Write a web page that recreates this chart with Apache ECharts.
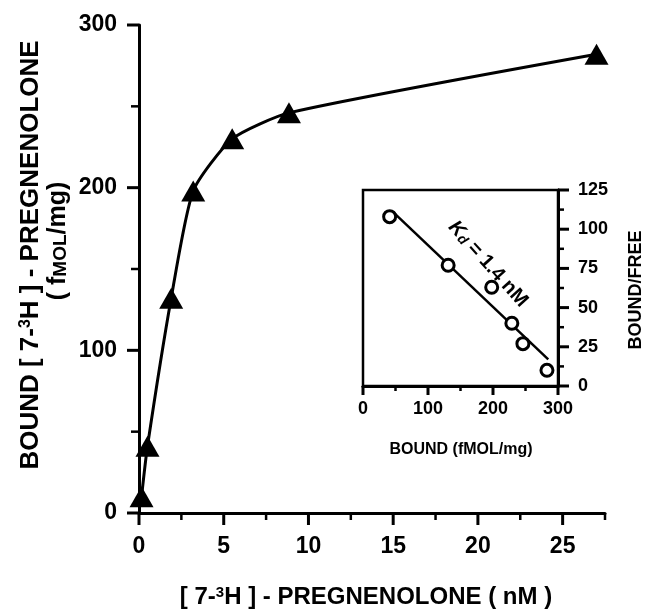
<!DOCTYPE html>
<html lang="en">
  <head>
    <meta charset="UTF-8" />
    <title>Pregnenolone binding</title>
    <style>
      html, body { margin: 0; padding: 0; background: #fff; }
    </style>
  </head>
  <body>
    <div id="main" style="width: 646px; height: 613px"></div>
    <script src="https://cdn.jsdelivr.net/npm/echarts@6.0.0/dist/echarts.min.js"></script>
    <script>
      // saturation curve: [nM, fmol/mg]
      const concNM = [0.15, 0.5, 1.9, 3.2, 5.5, 8.85, 27.0]
      const boundMain = [10, 41, 132, 198, 230, 246, 282]

      // Scatchard inset: bound vs bound/free
      const boundInset = [41, 131, 198, 229, 246, 283]
      const boundFree = [108, 77, 63, 40, 27, 10]

      // fitted line ends
      const fitBound = [46, 285]
      const fitRatio = [111, 17]

      // tick labels and tick marks
      const mainXTicks = [0, 5, 10, 15, 20, 25]
      const mainXMinor = [2.5, 7.5, 12.5, 17.5, 22.5, 27.5]
      const mainYTicks = [0, 100, 200, 300]
      const mainYMinor = [50, 150, 250]
      const insetXTicks = [0, 100, 200, 300]
      const insetXMinor = [50, 150, 250]
      const insetYTicks = [0, 25, 50, 75, 100, 125]
      const insetYMinor = [12.5, 37.5, 62.5, 87.5, 112.5]

      const FONT = 'Liberation Sans'
      const BLACK = '#000'
      const pairs = (xs, ys) => xs.map((x, i) => [x, ys[i]])

      const myChart = echarts.init(document.getElementById('main'))

      const mainX = [0, 27.5, 5]
      const mainY = [0, 300, 100]
      const insetX = [0, 300, 100]
      const insetY = [0, 125, 25]

      const valueAxis = (grid, range, ticks, font, margin, extra) =>
        Object.assign(
          {
            gridIndex: grid,
            type: 'value',
            min: range[0],
            max: range[1],
            interval: range[2],
            splitLine: { show: false },
            axisLine: { show: true, onZero: false, lineStyle: { color: BLACK, width: 3 } },
            axisTick: { show: false },
            axisLabel: {
              color: BLACK,
              fontFamily: FONT,
              fontWeight: 'bold',
              fontSize: font,
              margin: margin,
              formatter: v => (ticks.includes(v) ? String(v) : '')
            }
          },
          extra
        )

      const titles = [
        // main y title, two lines
        {
          type: 'text',
          x: 31,
          y: 255,
          rotation: Math.PI / 2,
          style: {
            text: '{t|BOUND [ 7-}{s|3}{t|H ] - PREGNENOLONE}',
            align: 'center',
            verticalAlign: 'middle',
            rich: {
              t: { fontFamily: FONT, fontWeight: 'bold', fontSize: 26, fill: BLACK },
              s: { fontFamily: FONT, fontWeight: 'bold', fontSize: 16, fill: BLACK, verticalAlign: 'top' }
            }
          }
        },
        {
          type: 'text',
          x: 58,
          y: 241,
          rotation: Math.PI / 2,
          style: {
            text: '{t|( f}{c|MOL}{t|/mg)}',
            align: 'center',
            verticalAlign: 'middle',
            rich: {
              t: { fontFamily: FONT, fontWeight: 'bold', fontSize: 25, fill: BLACK },
              c: { fontFamily: FONT, fontWeight: 'bold', fontSize: 19, fill: BLACK, verticalAlign: 'bottom' }
            }
          }
        },
        // main x title
        {
          type: 'text',
          x: 366,
          y: 597,
          style: {
            text: '{t|[ 7-}{s|3}{t|H ] - PREGNENOLONE ( nM )}',
            align: 'center',
            verticalAlign: 'middle',
            rich: {
              t: { fontFamily: FONT, fontWeight: 'bold', fontSize: 24, fill: BLACK },
              s: { fontFamily: FONT, fontWeight: 'bold', fontSize: 15, fill: BLACK, verticalAlign: 'top' }
            }
          }
        },
        // inset titles
        {
          type: 'text',
          x: 461,
          y: 450,
          style: {
            text: 'BOUND (fMOL/mg)',
            align: 'center',
            verticalAlign: 'middle',
            fontFamily: FONT,
            fontWeight: 'bold',
            fontSize: 16,
            fill: BLACK
          }
        },
        {
          type: 'text',
          x: 636,
          y: 290,
          rotation: Math.PI / 2,
          style: {
            text: 'BOUND/FREE',
            align: 'center',
            verticalAlign: 'middle',
            fontFamily: FONT,
            fontWeight: 'bold',
            fontSize: 18,
            fill: BLACK
          }
        },
        // Kd annotation
        {
          type: 'text',
          x: 488,
          y: 264,
          rotation: -48 * Math.PI / 180,
          style: {
            text: '{k|K}{d|d}{t| = 1.4 nM}',
            align: 'center',
            verticalAlign: 'middle',
            rich: {
              k: { fontFamily: FONT, fontWeight: 'bold', fontStyle: 'italic', fontSize: 20, fill: BLACK },
              d: { fontFamily: FONT, fontWeight: 'bold', fontStyle: 'italic', fontSize: 14, fill: BLACK, verticalAlign: 'bottom' },
              t: { fontFamily: FONT, fontWeight: 'bold', fontSize: 20, fill: BLACK }
            }
          }
        }
      ]

      const option = {
        animation: false,
        grid: [
          { left: 139, top: 25, right: 41, bottom: 100 },
          {
            left: 363, top: 190, right: 88, bottom: 227,
            show: true, borderColor: BLACK, borderWidth: 2.5
          }
        ],

        xAxis: [
          valueAxis(0, mainX, mainXTicks, 23, 22),
          valueAxis(1, insetX, insetXTicks, 18, 14)
        ],

        yAxis: [
          valueAxis(0, mainY, mainYTicks, 23, 22),
          valueAxis(1, insetY, insetYTicks, 18, 20, { position: 'right' })
        ],

        series: [
          {
            name: 'saturation',
            type: 'line',
            xAxisIndex: 0,
            yAxisIndex: 0,
            data: pairs(concNM, boundMain),
            smooth: 0.2,
            symbol: 'triangle',
            symbolSize: [24, 21],
            itemStyle: { color: BLACK },
            lineStyle: { color: BLACK, width: 3 },
            z: 3
          },
          {
            name: 'fit',
            type: 'line',
            xAxisIndex: 1,
            yAxisIndex: 1,
            data: pairs(fitBound, fitRatio),
            symbol: 'none',
            lineStyle: { color: BLACK, width: 2.5 },
            z: 2
          },
          {
            name: 'scatchard',
            type: 'scatter',
            xAxisIndex: 1,
            yAxisIndex: 1,
            data: pairs(boundInset, boundFree),
            symbolSize: 12,
            itemStyle: { color: '#fff', borderColor: BLACK, borderWidth: 3, opacity: 1 },
            z: 4
          }
        ],

        graphic: titles
      }

      myChart.setOption(option)

      // tick marks: placed with the axes' own scales once the grids exist
      // dir is the pixel direction of the mark, lens = [major, minor]
      const tickLines = []
      const addTicks = (grid, pts, majors, dir, lens) => {
        pts.forEach(pt => {
          const p = myChart.convertToPixel({ gridIndex: grid }, pt)
          const v = dir[0] === 0 ? pt[0] : pt[1]
          const major = majors.includes(v)
          const len = major ? lens[0] : lens[1]
          tickLines.push({
            type: 'line',
            z: 100,
            silent: true,
            shape: { x1: p[0], y1: p[1], x2: p[0] + dir[0] * len, y2: p[1] + dir[1] * len },
            style: { stroke: BLACK, lineWidth: major ? 3 : 2.5 }
          })
        })
      }
      const atY = (vals, y) => vals.map(v => [v, y])
      const atX = (vals, x) => vals.map(v => [x, v])

      addTicks(0, atY(mainXTicks.concat(mainXMinor), mainY[0]), mainXTicks, [0, 1], [12, 7])
      addTicks(0, atX(mainYTicks.concat(mainYMinor), mainX[0]), mainYTicks, [-1, 0], [12, 8])
      addTicks(1, atY(insetXTicks.concat(insetXMinor), insetY[0]), insetXTicks, [0, 1], [9, 5])
      addTicks(1, atX(insetYTicks.concat(insetYMinor), insetX[1]), insetYTicks, [1, 0], [11, 6])

      myChart.setOption({ graphic: titles.concat(tickLines) })
    </script>
  </body>
</html>
